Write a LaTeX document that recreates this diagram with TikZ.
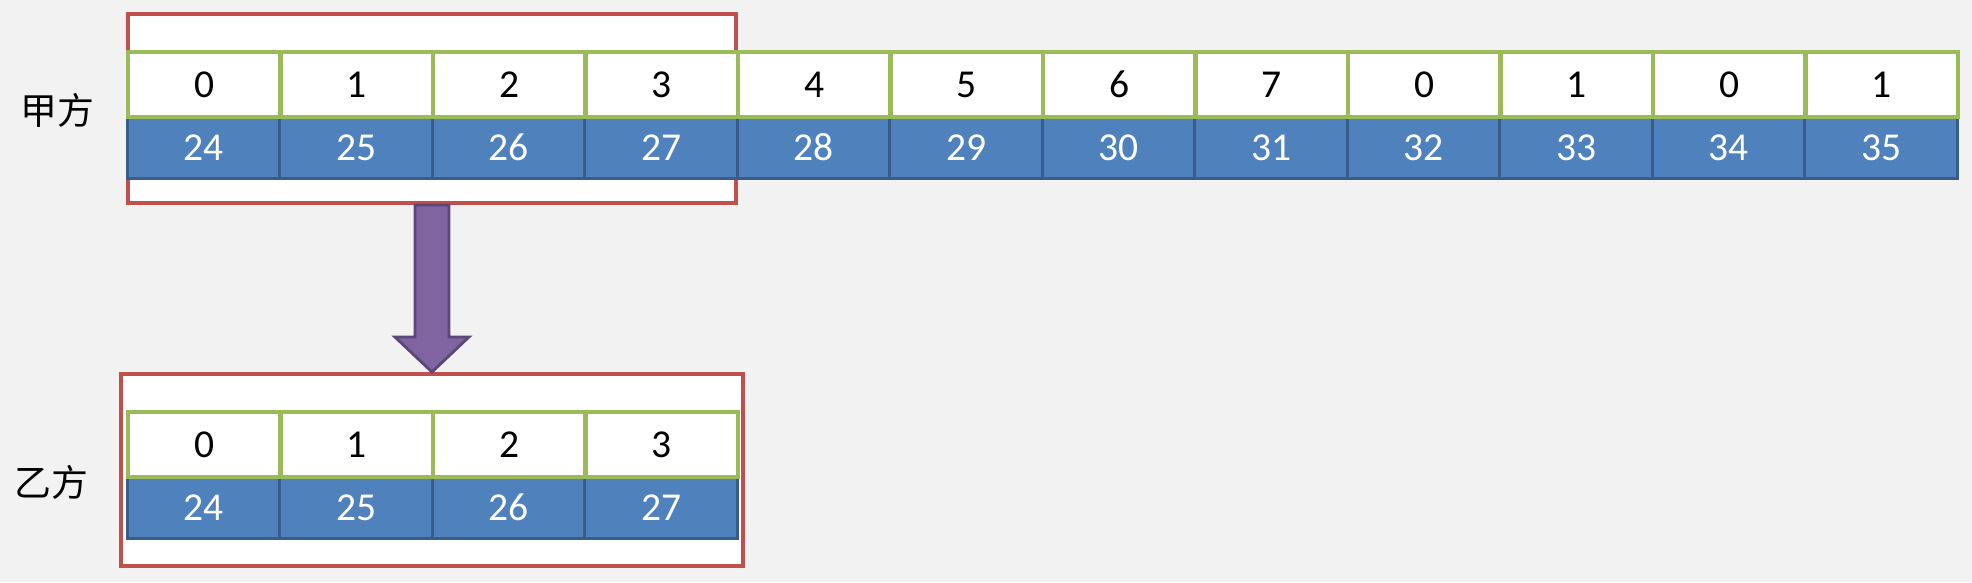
\documentclass[tikz,border=0pt]{standalone}
\usepackage{fontspec}
\setmainfont{Carlito}
\newfontfamily\cjkfont{Noto Sans CJK SC}
\usetikzlibrary{calc}
\definecolor{bggray}{RGB}{242,242,242}
\definecolor{cellgreen}{RGB}{155,187,89}
\definecolor{cellblue}{RGB}{79,129,189}
\definecolor{edgeblue}{RGB}{56,93,138}
\definecolor{boxred}{RGB}{192,80,77}
\definecolor{arrowpurple}{RGB}{128,100,162}
\definecolor{edgepurple}{RGB}{92,71,118}

\begin{document}
\begin{tikzpicture}[x=0.02cm,y=-0.02cm,
	valcell/.style={draw=cellgreen,fill=white,line width=2.3pt,minimum width=3.05cm,minimum height=1.3cm,inner sep=0pt,anchor=north west,font=\fontsize{22.5}{24}\selectfont},
	idcell/.style={draw=edgeblue,fill=cellblue,line width=1.6pt,minimum width=3.05cm,minimum height=1.24cm,inner sep=0pt,anchor=north west,text=white,font=\fontsize{22.5}{24}\selectfont},
	framebox/.style={draw=boxred,fill=white,line width=2.3pt,inner sep=0pt,anchor=north west},
	side/.style={font=\cjkfont\fontsize{21}{23}\selectfont},
	bigarrow/.style={draw=edgepurple,fill=arrowpurple,line width=1.6pt,line join=miter}]
	\useasboundingbox (0,0) rectangle (1972,582);
	\fill[bggray] (0,0) rectangle (1972,582);
	% frames
	\node[framebox,minimum width=12.16cm,minimum height=3.78cm] (frameA) at (126,12) {};
	\node[framebox,minimum width=12.44cm,minimum height=3.84cm] (frameB) at (119,372) {};
	% party A
	\foreach \i in {0,...,11} {
		\pgfmathtruncatemacro{\id}{24+\i}
		\node[idcell] (a\i) at (126+152.5*\i,115) {\id};
	}
	\foreach \v [count=\i from 0] in {0,1,2,3,4,5,6,7,0,1,0,1} {
		\node[valcell] (va\i) at (126+152.5*\i,50) {\v};
	}
	% party B
	\foreach \i in {0,...,3} {
		\pgfmathtruncatemacro{\id}{24+\i}
		\node[idcell] (b\i) at (126+152.5*\i,475) {\id};
	}
	\foreach \v [count=\i from 0] in {0,1,2,3} {
		\node[valcell] (vb\i) at (126+152.5*\i,410) {\v};
	}
	\node[side] (sideA) at (57,110) {甲方};
	\node[side] (sideB) at (51,482) {乙方};
	% arrow
	\draw[bigarrow] ($(frameA.south)+(-17,0)$) -- ($(frameA.south)+(17,0)$)
		-- ($(frameB.north)+(17,-35)$) -- ($(frameB.north)+(37,-35)$)
		-- (frameB.north) -- ($(frameB.north)+(-37,-35)$)
		-- ($(frameB.north)+(-17,-35)$) -- cycle;
\end{tikzpicture}
\end{document}
